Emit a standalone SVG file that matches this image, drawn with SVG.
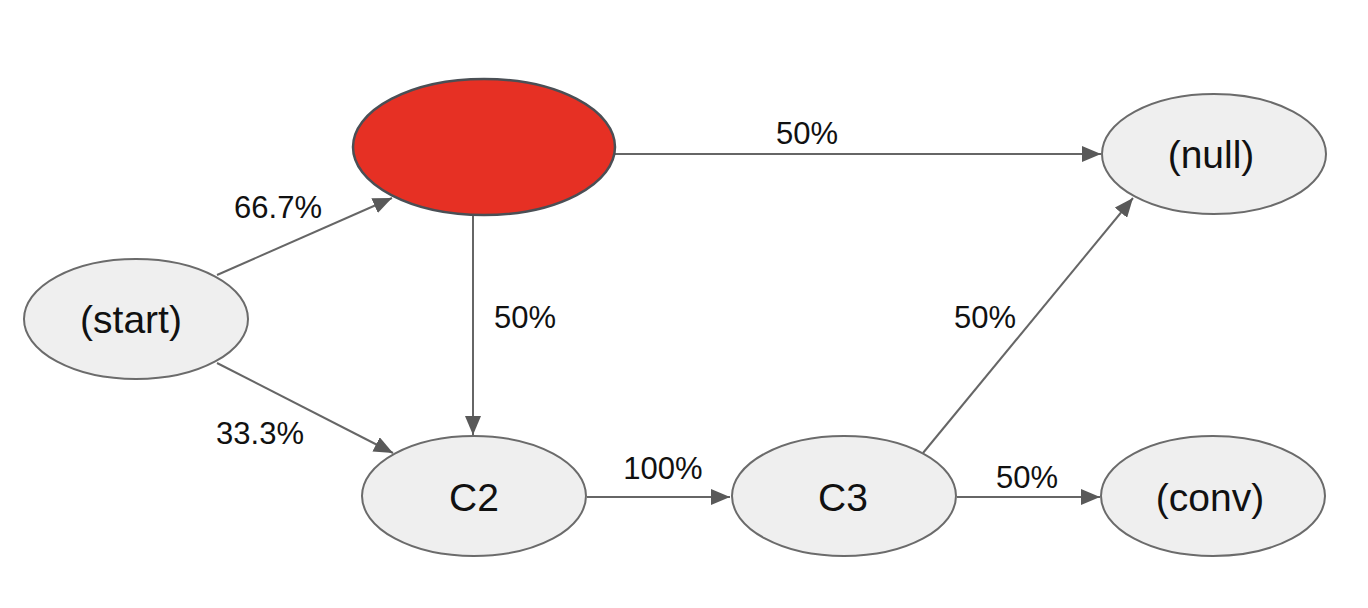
<svg xmlns="http://www.w3.org/2000/svg" width="1368" height="608" viewBox="0 0 1368 608">
<style>
.node{fill:#efefef;stroke:#6b6b6b;stroke-width:2}
.hot{fill:#e63024;stroke:#4a4f55;stroke-width:2.5}
.nl{font-family:"Liberation Sans",Arial,sans-serif;font-size:39px;fill:#111;text-anchor:middle}
.el{font-family:"Liberation Sans",Arial,sans-serif;font-size:31px;fill:#111;text-anchor:middle}
.edge{stroke:#666;stroke-width:2;fill:none;marker-end:url(#arr)}
</style>
<defs>
<marker id="arr" markerUnits="userSpaceOnUse" markerWidth="20" markerHeight="16" refX="19" refY="8" orient="auto">
<path d="M0,0 L19,8 L0,16 Z" fill="#595959"/>
</marker>
</defs>
<rect width="1368" height="608" fill="#fff"/>
<g id="connectors">
<line class="edge" x1="217" y1="275" x2="392" y2="198"/>
<line class="edge" x1="217" y1="363" x2="393" y2="453"/>
<line class="edge" x1="473" y1="215" x2="473" y2="435"/>
<line class="edge" x1="615" y1="154" x2="1101" y2="154"/>
<line class="edge" x1="587" y1="497" x2="730" y2="497"/>
<line class="edge" x1="923" y1="453" x2="1133" y2="198"/>
<line class="edge" x1="957" y1="497" x2="1100" y2="497"/>
<text class="el" x="278" y="218">66.7%</text>
<text class="el" x="260" y="444">33.3%</text>
<text class="el" x="525" y="328">50%</text>
<text class="el" x="807" y="144">50%</text>
<text class="el" x="663" y="479">100%</text>
<text class="el" x="985" y="328">50%</text>
<text class="el" x="1027" y="488">50%</text>
</g>
<g id="node-hot"><ellipse class="hot" cx="484" cy="147" rx="131" ry="68"/></g>
<g id="node-null"><ellipse class="node" cx="1214" cy="154" rx="112" ry="60"/><text class="nl" x="1211" y="168">(null)</text></g>
<g id="node-start"><ellipse class="node" cx="136" cy="319" rx="112" ry="60"/><text class="nl" x="131" y="333">(start)</text></g>
<g id="node-c2"><ellipse class="node" cx="474" cy="496" rx="112" ry="60"/><text class="nl" x="474" y="511">C2</text></g>
<g id="node-c3"><ellipse class="node" cx="844" cy="496" rx="112" ry="60"/><text class="nl" x="843" y="511">C3</text></g>
<g id="node-conv"><ellipse class="node" cx="1213" cy="496" rx="112" ry="60"/><text class="nl" x="1210" y="511">(conv)</text></g>
</svg>
